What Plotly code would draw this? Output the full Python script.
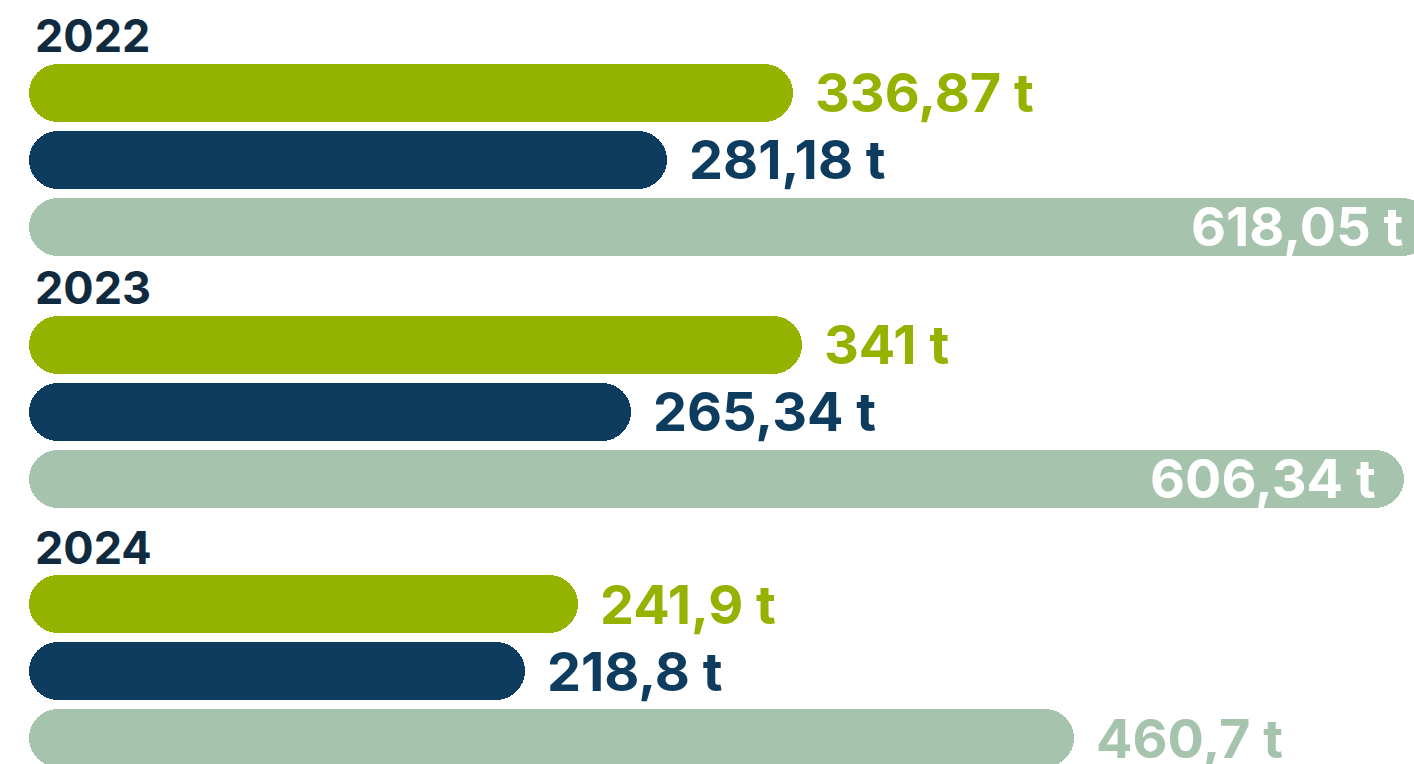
import plotly.graph_objects as go

# ---- data ----
years = ["2022", "2023", "2024"]
series_names = ["Serie 1", "Serie 2", "Serie 3"]
values_green = [336.87, 341, 241.9]
values_navy = [281.18, 265.34, 218.8]
values_sage = [618.05, 606.34, 460.7]
unit = "t"

# ---- style / layout constants ----
W, H = 1414, 764
colors = ["#94B200", "#0D3C5E", "#A6C3AE"]
title_color = "#102B40"
x_range = [-12.79, 610.7]
bar_px = 58
bar_pitch = 67
group_first_center = [92.5, 344.5, 604]
title_offset = 57
FONT = "Inter"


def fmt(v):
    return f"{v:g}".replace(".", ",") + " " + unit


fig = go.Figure()
all_series = [values_green, values_navy, values_sage]
annotations = []
for si, vals in enumerate(all_series):
    ys = [group_first_center[g] + si * bar_pitch for g in range(len(years))]
    fig.add_trace(go.Bar(
        orientation="h", y=ys, x=vals, base=0,
        width=bar_px, marker=dict(color=colors[si], cornerradius=bar_px / 2, line=dict(width=0)),
        name=series_names[si], showlegend=False, hoverinfo="skip",
    ))
    for v, y in zip(vals, ys):
        inside = v > 550
        if inside:
            annotations.append(dict(
                x=v - 11.5, y=y, xref="x", yref="y", text=fmt(v), showarrow=False,
                xanchor="right", yanchor="middle",
                font=dict(family=FONT, size=54, color="#FFFFFF", weight=700),
            ))
        else:
            annotations.append(dict(
                x=v, y=y, xref="x", yref="y", text=fmt(v), showarrow=False,
                xanchor="left", yanchor="middle", xshift=20,
                font=dict(family=FONT, size=54, color=colors[si], weight=700),
            ))

for g, yr in enumerate(years):
    annotations.append(dict(
        x=0, y=group_first_center[g] - title_offset, xref="x", yref="y", text=yr,
        showarrow=False, xanchor="left", yanchor="middle", xshift=4,
        font=dict(family=FONT, size=45, color=title_color, weight=700),
    ))

fig.update_layout(
    width=W, height=H, margin=dict(l=0, r=0, t=0, b=0),
    paper_bgcolor="white", plot_bgcolor="white",
    barmode="overlay", bargap=0,
    xaxis=dict(range=x_range, visible=False, fixedrange=True),
    yaxis=dict(range=[H, 0], visible=False, fixedrange=True),
    annotations=annotations, showlegend=False,
)

fig.write_html("out.html", config={"displayModeBar": False},
               post_script="document.body.style.margin='0';document.body.style.overflow='hidden';")
